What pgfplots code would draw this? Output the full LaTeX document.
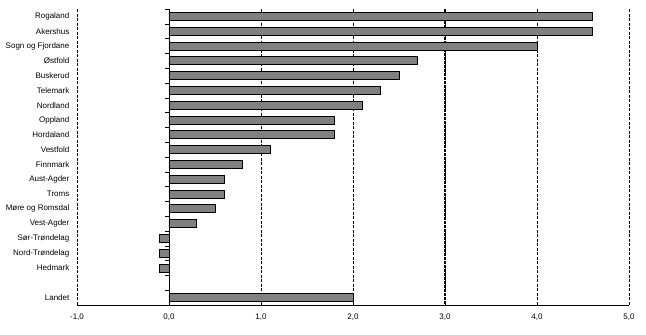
\documentclass[border=0pt]{standalone}
\usepackage{fontspec}
\setmainfont{Liberation Sans}
\usepackage{pgfplots}
\pgfplotsset{compat=1.18}
\begin{document}
\begin{tikzpicture}[font=\fontsize{8}{9.5}\selectfont]
\useasboundingbox (-77pt,-30pt) rectangle (569pt,305pt);
\begin{axis}[
  at={(0,0)}, anchor=south west,
  scale only axis, width=552pt, height=296pt,
  xbar, bar width=8pt,
  xmin=-1, xmax=5, ymin=-0.5, ymax=19.5, y dir=reverse,
  xtick={-1,0,...,5},
  extra x ticks={3}, extra x tick labels={},
  extra x tick style={grid style={black, line width=1.2pt, dash pattern=on 3pt off 1pt}},
  ytick={0,...,17,19},
  yticklabels={Rogaland,Akershus,Sogn og Fjordane,Østfold,Buskerud,Telemark,Nordland,Oppland,Hordaland,Vestfold,Finnmark,Aust-Agder,Troms,Møre og Romsdal,Vest-Agder,Sør-Trøndelag,Nord-Trøndelag,Hedmark,Landet},
  axis x line=bottom, axis y line=left, axis line style={-, black},
  y axis line style={dash pattern=on 3pt off 1.5pt},
  xmajorgrids, grid style={black, dash pattern=on 3pt off 1.5pt},
  tick style={draw=none},
  xticklabel style={yshift=-3pt},
  yticklabel style={xshift=-2pt},
  /pgf/number format/.cd, fixed, fixed zerofill, precision=1, use comma, assume math mode=true,
]
\addplot[fill=black!50, draw=black, line width=0.8pt] coordinates {
(4.6,0) (4.6,1) (4.0,2) (2.7,3) (2.5,4) (2.3,5) (2.1,6) (1.8,7) (1.8,8) (1.1,9)
(0.8,10) (0.6,11) (0.6,12) (0.5,13) (0.3,14) (-0.1,15) (-0.1,16) (-0.1,17) (2.0,19)};
\draw[black, line width=0.8pt] (axis cs:0,-0.5) -- (axis cs:0,19.5);
\pgfplotsinvokeforeach{0,...,20}{\draw[black] (axis cs:0,#1-0.5) -- ++(-4pt,0pt);}
\end{axis}
\end{tikzpicture}
\end{document}
